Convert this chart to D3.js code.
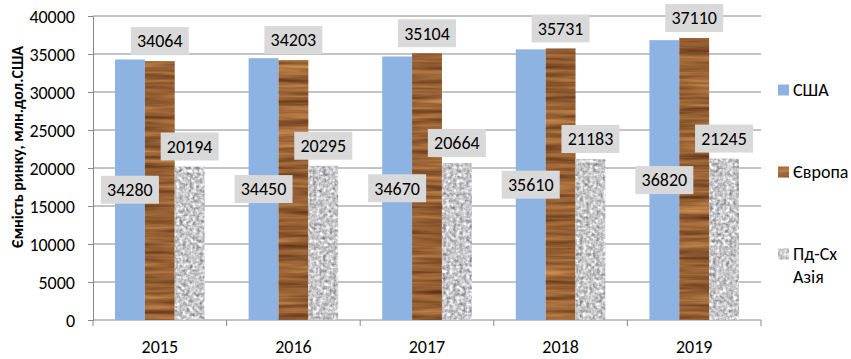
<!DOCTYPE html>
<html>
<head>
<meta charset="utf-8">
<script src="https://cdn.jsdelivr.net/npm/d3@7"></script>
<style>
	body { margin: 0; background: #fff; }
	svg text { font-family: Calibri, Carlito, "Liberation Sans", sans-serif; fill: #000; }
</style>
</head>
<body>
<svg id="chart" width="851" height="359"></svg>
<script>
var years = ['2015', '2016', '2017', '2018', '2019'];
var seriesNames = ['США', 'Європа', 'Пд-Сх Азія'];
var usa = [34280, 34450, 34670, 35610, 36820];
var europe = [34064, 34203, 35104, 35731, 37110];
var asia = [20194, 20295, 20664, 21183, 21245];
var yTicks = [0, 5000, 10000, 15000, 20000, 25000, 30000, 35000, 40000];

var svg = d3.select('#chart');
var plotLeft = 93, plotRight = 761, plotTop = 16, plotBottom = 320;

var defs = svg.append('defs');
// wood texture for Europe
var wood = defs.append('filter').attr('id', 'wood')
	.attr('color-interpolation-filters', 'sRGB')
	.attr('x', 0).attr('y', 0).attr('width', 1).attr('height', 1);
wood.append('feTurbulence').attr('type', 'fractalNoise')
	.attr('baseFrequency', '0.012 0.2').attr('numOctaves', 3).attr('seed', 7).attr('result', 'n');
wood.append('feColorMatrix').attr('in', 'n').attr('type', 'matrix')
	.attr('values', '0.55 0 0 0 0.31  0.45 0 0 0 0.15  0.3 0 0 0 0.05  0 0 0 0 1').attr('result', 'c');
wood.append('feComposite').attr('in', 'c').attr('in2', 'SourceGraphic').attr('operator', 'in');

// granite texture for Asia
var granite = defs.append('filter').attr('id', 'granite')
	.attr('color-interpolation-filters', 'sRGB')
	.attr('x', 0).attr('y', 0).attr('width', 1).attr('height', 1);
granite.append('feTurbulence').attr('type', 'fractalNoise')
	.attr('baseFrequency', '0.3').attr('numOctaves', 2).attr('seed', 3).attr('result', 'n');
granite.append('feColorMatrix').attr('in', 'n').attr('type', 'matrix')
	.attr('values', '0.42 0.42 0.42 0 0.15  0.42 0.42 0.42 0 0.15  0.42 0.42 0.42 0 0.16  0 0 0 0 1').attr('result', 'c');
granite.append('feComposite').attr('in', 'c').attr('in2', 'SourceGraphic').attr('operator', 'in');

var fills = ['#8db3e2', '#8a5a2e', '#bbbbbb'];
var filters = [null, 'url(#wood)', 'url(#granite)'];

var xScale = d3.scaleBand().domain(years).range([plotLeft, plotRight]);
var inner = d3.scaleBand().domain([0, 1, 2]).range([22, xScale.bandwidth() - 22]);
var yScale = d3.scaleLinear().domain([0, 40000]).range([plotBottom, plotTop]);

// gridlines
svg.append('g').selectAll('line').data(yTicks.slice(1)).enter().append('line')
	.attr('x1', plotLeft).attr('x2', plotRight)
	.attr('y1', function (d) { return yScale(d); })
	.attr('y2', function (d) { return yScale(d); })
	.attr('stroke', '#888').attr('stroke-width', 1);

var yAxis = d3.axisLeft(yScale).tickValues(yTicks).tickFormat(d3.format('d')).tickSize(5).tickPadding(13);
var gy = svg.append('g').attr('transform', 'translate(' + plotLeft + ',0)').call(yAxis);
gy.select('.domain').attr('stroke', '#888');
gy.selectAll('.tick line').attr('stroke', '#888');
gy.selectAll('.tick text').style('font-size', '18px').attr('dy', '0.35em');

var xAxis = d3.axisBottom(xScale).tickSize(0);
var gx = svg.append('g').attr('transform', 'translate(0,' + plotBottom + ')').call(xAxis);
gx.select('.domain').attr('stroke', '#888').attr('d', 'M' + plotLeft + ',0H' + plotRight);
gx.selectAll('.tick text').style('font-size', '18px').attr('y', 33).attr('dy', 0);
// boundary tick marks
gx.append('g').selectAll('line').data(years.concat(['end'])).enter().append('line')
	.attr('x1', function (d, i) { return plotLeft + i * xScale.step(); })
	.attr('x2', function (d, i) { return plotLeft + i * xScale.step(); })
	.attr('y1', 0).attr('y2', 6).attr('stroke', '#888');

var allSeries = [usa, europe, asia];
allSeries.forEach(function (vals, s) {
	svg.append('g').selectAll('rect').data(vals).enter().append('rect')
		.attr('x', function (d, i) { return xScale(years[i]) + inner(s); })
		.attr('width', inner.bandwidth())
		.attr('y', function (d) { return yScale(d); })
		.attr('height', function (d) { return plotBottom - yScale(d); })
		.attr('fill', fills[s])
		.attr('filter', filters[s]);
});

// data labels
function addLabels(vals, s, centerMode) {
	var g = svg.append('g');
	vals.forEach(function (d, i) {
		var cx = xScale(years[i]) + inner(s) + inner.bandwidth() / 2;
		var cy = centerMode ? yScale(d / 2) : yScale(d) - 20;
		g.append('rect').attr('x', cx - 29).attr('y', cy - 14)
			.attr('width', 58).attr('height', 28).attr('fill', '#d9d9d9');
		g.append('text').attr('x', cx).attr('y', cy).attr('dy', '0.35em')
			.attr('text-anchor', 'middle').style('font-size', '18px').text(d);
	});
}
addLabels(usa, 0, true);
addLabels(europe, 1, false);
addLabels(asia, 2, false);

// y axis title
svg.append('text')
	.attr('transform', 'translate(17,147) rotate(-90)')
	.attr('text-anchor', 'middle').attr('dy', '0.35em')
	.style('font-size', '16px').style('font-weight', 'bold')
	.text('Ємність ринку, млн.дол.США');

// legend
var legendY = [90, 172, 254];
var legend = svg.append('g');
seriesNames.forEach(function (name, i) {
	legend.append('rect').attr('x', 778).attr('y', legendY[i] - 5.5)
		.attr('width', 11).attr('height', 11)
		.attr('fill', fills[i]).attr('filter', filters[i]);
	var words = name === 'Пд-Сх Азія' ? ['Пд-Сх', 'Азія'] : [name];
	words.forEach(function (w, j) {
		legend.append('text').attr('x', 793).attr('y', legendY[i] + j * 23)
			.attr('dy', '0.35em').style('font-size', '18px').text(w);
	});
});
</script>
</body>
</html>
